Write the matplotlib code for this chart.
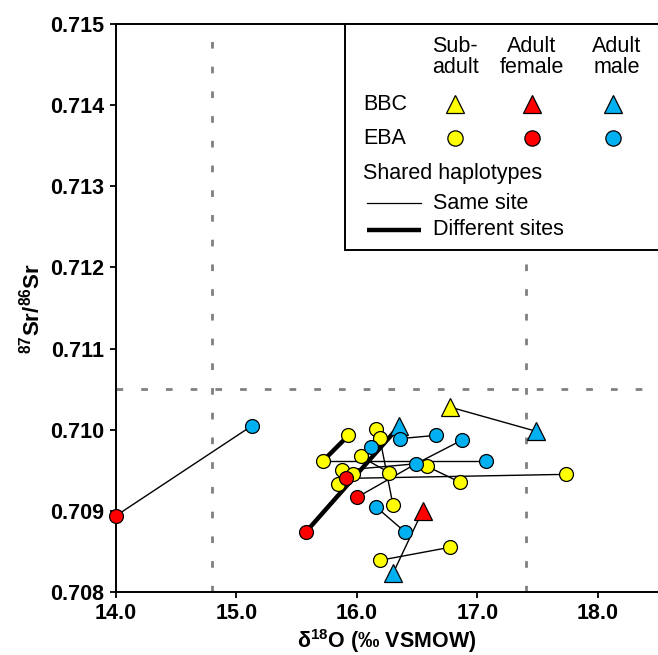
import matplotlib
matplotlib.use('Agg')
import matplotlib.pyplot as plt
from matplotlib.patches import Rectangle
from matplotlib.lines import Line2D

plt.rcParams['font.family'] = ['Liberation Sans', 'DejaVu Sans']
plt.rcParams['mathtext.fontset'] = 'custom'
plt.rcParams['mathtext.rm'] = 'Liberation Sans'
plt.rcParams['mathtext.bf'] = 'Liberation Sans:bold'
plt.rcParams['mathtext.it'] = 'Liberation Sans:italic'

# ---------------- data ----------------
# BBC points
bbc_x = [16.77, 16.545, 16.35, 17.49, 16.30]
bbc_y = [0.71028, 0.70900, 0.71004, 0.70998, 0.70823]
bbc_age = ['sub', 'female', 'male', 'male', 'male']

# EBA points
eba_x = [15.93, 15.715, 16.155, 16.19, 16.03, 16.58, 15.88, 15.97, 16.27, 15.845,
         16.86, 16.30, 16.19, 16.77, 17.74,
         14.0, 15.577, 15.91, 16.005,
         15.13, 16.12, 16.357, 16.653, 16.87, 16.49, 17.068, 16.158, 16.40]
eba_y = [0.70993, 0.70961, 0.71001, 0.70990, 0.70967, 0.70955, 0.70950, 0.70946, 0.70947, 0.70933,
         0.70935, 0.70907, 0.70839, 0.70855, 0.70945,
         0.70894, 0.70874, 0.70940, 0.70917,
         0.71005, 0.70979, 0.70989, 0.70993, 0.70987, 0.70958, 0.70961, 0.70905, 0.70874]
eba_age = ['sub'] * 15 + ['female'] * 4 + ['male'] * 9

# shared-haplotype links (indices into the combined BBC + EBA list)
thin_links = [(0, 3), (20, 24), (6, 30), (22, 19), (9, 13), (8, 16), (23, 29),
              (29, 28), (26, 27), (10, 15), (31, 32), (1, 4), (17, 18), (11, 29)]
thick_links = [(5, 6), (21, 2)]

x_ticks = [14.0, 15.0, 16.0, 17.0, 18.0]
y_ticks = [0.708, 0.709, 0.710, 0.711, 0.712, 0.713, 0.714, 0.715]
x_bounds = [14.8, 17.4]
y_bound = 0.7105

col_headers = ['Sub-\nadult', 'Adult\nfemale', 'Adult\nmale']
age_keys = ['sub', 'female', 'male']
age_colors = {'sub': '#FFFF00', 'female': '#FF0000', 'male': '#00B0F0'}

# ---------------- figure ----------------
W, H = 658, 655
fig = plt.figure(figsize=(W / 100, H / 100), dpi=100)
ax = fig.add_axes([116 / W, 1 - 592 / H, (658 - 116) / W, (592 - 24) / H])

all_x = bbc_x + eba_x
all_y = bbc_y + eba_y

dash_kw = dict(color='#808080', lw=2.0, dashes=(2.4, 6.5), zorder=1)
for xb in x_bounds:
    ax.axvline(xb, **dash_kw)
ax.axhline(y_bound, **dash_kw)

for a, b in thin_links:
    ax.plot([all_x[a], all_x[b]], [all_y[a], all_y[b]], color='black', lw=1.0,
            zorder=2, solid_capstyle='butt')
for a, b in thick_links:
    ax.plot([all_x[a], all_x[b]], [all_y[a], all_y[b]], color='black', lw=3.2,
            zorder=2, solid_capstyle='butt')

for x, y, age in zip(bbc_x, bbc_y, bbc_age):
    ax.plot(x, y, marker='^', ms=13, mfc=age_colors[age], mec='black', mew=0.9,
            ls='none', zorder=3, clip_on=False)
for x, y, age in zip(eba_x, eba_y, eba_age):
    ax.plot(x, y, marker='o', ms=10, mfc=age_colors[age], mec='black', mew=0.9,
            ls='none', zorder=4, clip_on=False)

ax.set_xlim(14.0, 18.5)
ax.set_ylim(0.708, 0.715)
ax.set_xticks(x_ticks)
ax.set_xticklabels([f'{v:.1f}' for v in x_ticks])
ax.set_yticks(y_ticks)
ax.set_yticklabels([f'{v:.3f}' for v in y_ticks])
ax.tick_params(direction='out', length=4.5, width=1.3, labelsize=15.5, pad=4)
ax.tick_params(axis='x', pad=3.5)
for lbl in ax.get_xticklabels() + ax.get_yticklabels():
    lbl.set_fontweight('bold')
ax.spines['right'].set_visible(False)
for s in ['left', 'top', 'bottom']:
    ax.spines[s].set_linewidth(1.4)

ax.set_xlabel('δ$^{\\mathbf{18}}$O (‰ VSMOW)', fontsize=15.5, fontweight='bold')
ax.xaxis.set_label_coords(0.5, (592 - 627) / 568)
ax.set_ylabel('$\\mathbf{^{87}Sr/^{86}Sr}$', fontsize=16, fontweight='bold', labelpad=4)

# ---------------- legend box ----------------
def fx(px):
    return px / W


def fy(py):
    return 1 - py / H


rect = Rectangle((fx(345), fy(250)), fx(700) - fx(345), fy(24) - fy(250),
                 transform=fig.transFigure, facecolor='white', edgecolor='black',
                 lw=1.4, zorder=10)
fig.patches.append(rect)

col_x = [455, 532, 617]
for cx, hdr in zip(col_x, col_headers):
    fig.text(fx(cx), fy(57), hdr, ha='center', va='center', fontsize=15.5,
             linespacing=1.05, zorder=11)

fig.text(fx(363), fy(105), 'BBC', ha='left', va='center', fontsize=15.5, zorder=11)
fig.text(fx(363), fy(138), 'EBA', ha='left', va='center', fontsize=15.5, zorder=11)
for cx, age in zip([455, 532, 613], age_keys):
    fig.add_artist(Line2D([fx(cx)], [fy(104)], marker='^', ms=13.5,
                          mfc=age_colors[age], mec='black', mew=0.9,
                          transform=fig.transFigure, zorder=11))
    fig.add_artist(Line2D([fx(cx)], [fy(138)], marker='o', ms=11,
                          mfc=age_colors[age], mec='black', mew=0.9,
                          transform=fig.transFigure, zorder=11))

fig.text(fx(363), fy(174), 'Shared haplotypes', ha='left', va='center',
         fontsize=15.5, zorder=11)
fig.add_artist(Line2D([fx(367), fx(421)], [fy(203), fy(203)], color='black', lw=0.9,
                      transform=fig.transFigure, zorder=11))
fig.add_artist(Line2D([fx(367), fx(421)], [fy(230), fy(230)], color='black', lw=3.2,
                      transform=fig.transFigure, zorder=11, solid_capstyle='butt'))
fig.text(fx(433), fy(203), 'Same site', ha='left', va='center', fontsize=15.5, zorder=11)
fig.text(fx(433), fy(230), 'Different sites', ha='left', va='center', fontsize=15.5,
         zorder=11)

fig.savefig('out.png', dpi=100)
